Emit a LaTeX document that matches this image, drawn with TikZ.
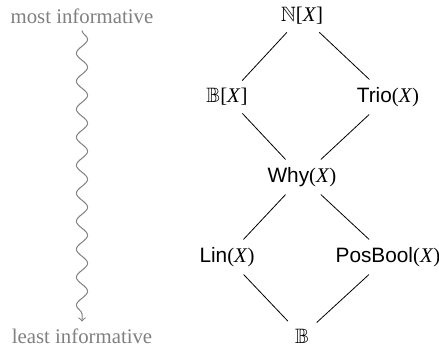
\documentclass[tikz,border=0pt]{standalone}
\usepackage{amssymb}
\usepackage{fontspec}
\setmainfont{Liberation Serif}
\setsansfont{Liberation Sans}
\usetikzlibrary{decorations.pathmorphing}

\newcommand{\sr}[1]{\textsf{#1}(\textit{X})}
\newcommand{\vx}{[\textit{X}]}

\begin{document}
\begin{tikzpicture}[x=0.5pt,y=-0.5pt,font=\fontsize{10.4}{12}\selectfont,
    lattice/.style={shorten <=0.5pt,shorten >=0.5pt}]
    \useasboundingbox (0,0) rectangle (439,350);

    % Scale on the left
    \node[text=gray] (most) at (82,16) {most informative};
    \node[text=gray] (least) at (82,336) {least informative};
    \draw[gray,->,line width=0.5pt,decorate,decoration={snake,amplitude=2.8pt,segment length=14pt,post length=3pt}]
        (most) -- (least);

    % Lattice
    \node (nx) at (302,16) {$\mathbb{N}$\vx};
    \node (bx) at (227,97) {$\mathbb{B}$\vx};
    \node (trio) at (388,97) {\sr{Trio}};
    \node (why) at (302,177) {\sr{Why}};
    \node (lin) at (227,257) {\sr{Lin}};
    \node (posbool) at (388,257) {\sr{PosBool}};
    \node (b) at (302,336) {$\mathbb{B}$};

    \draw[lattice] (nx) -- (bx);
    \draw[lattice] (nx) -- (trio);
    \draw[lattice] (bx) -- (why);
    \draw[lattice] (trio) -- (why);
    \draw[lattice] (why) -- (lin);
    \draw[lattice] (why) -- (posbool);
    \draw[lattice] (lin) -- (b);
    \draw[lattice] (posbool) -- (b);
\end{tikzpicture}
\end{document}
